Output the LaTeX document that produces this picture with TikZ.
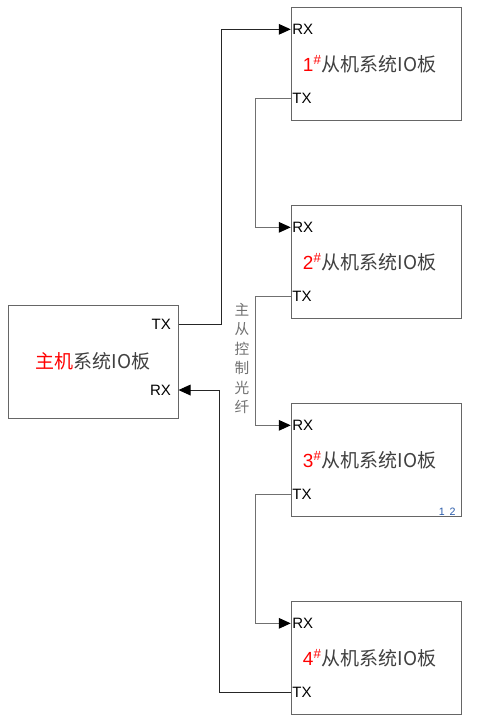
\documentclass[tikz,border=0pt]{standalone}
\usepackage{fontspec}
\setmainfont{Liberation Sans}
\newfontfamily\cjk{Noto Sans CJK SC}
\usetikzlibrary{arrows.meta,positioning}
\definecolor{boardred}{RGB}{255,0,0}
\definecolor{boardtext}{RGB}{64,64,64}
\definecolor{fibergray}{RGB}{112,112,112}
\definecolor{notecol}{RGB}{40,90,170}
\begin{document}
\begin{tikzpicture}[x=0.75pt,y=-0.75pt,
                    board/.style={draw=black!60,line width=0.75pt,
                    minimum width=127.5pt,minimum height=84.75pt,inner sep=0pt},
                    title/.style={font=\fontsize{14.25}{17}\selectfont,
                    text=boardtext,inner sep=0pt},
                    port/.style={font=\fontsize{11.25}{13}\selectfont,inner sep=1pt},
                    link/.style={draw=black!85,line width=0.75pt,
                    -{Triangle[length=9pt,width=8pt,color=black]}},
                    fiber/.style={link,draw=fibergray},
                    fiberlabel/.style={font=\cjk\fontsize{11}{14.6}\selectfont,
                    text=fibergray,align=center,inner sep=0pt}]
  \useasboundingbox (0,0) rectangle (482,727);
  % master board
  \node[board] (master) at (93,361.5) {};
  \node[title] (mastertitle) at (master.center)
    {\cjk\textcolor{boardred}{主机}系统IO板};
  \coordinate (mtx) at ([yshift=28.1pt]master.east);
  \coordinate (mrx) at ([yshift=-21.4pt]master.east);
  \node[port,anchor=east] (mtxlabel) at ([xshift=-4.5pt]mtx) {TX};
  \node[port,anchor=east] (mrxlabel) at ([xshift=-4.5pt]mrx) {RX};
  % slave boards
  \foreach \n/\y in {1/64,2/262,3/460,4/658}{
    \node[board] (s\n) at (376.25,\y) {};
    \node[title,xshift=-5pt] (title\n) at (s\n.center)
      {\textcolor{boardred}{\n\textsuperscript{\#}}\cjk 从机系统IO板};
    \coordinate (rx\n) at ([yshift=26pt]s\n.west);
    \coordinate (tx\n) at ([yshift=-26pt]s\n.west);
    \node[port,anchor=west] (rxlabel\n) at (rx\n) {RX};
    \node[port,anchor=west] (txlabel\n) at (tx\n) {TX};
  }
  \node[font=\fontsize{8}{9}\selectfont,text=notecol,anchor=south east,
    inner sep=0pt] (note) at ([xshift=-4.5pt,yshift=1pt]s3.south east)
    {1\hspace{3.5pt}2};
  % fibres
  \draw[link] (mtx) -- ++(42.5,0) |- (rx1);
  \foreach \a/\b in {1/2,2/3,3/4}
    \draw[fiber] (tx\a) -- ++(-35,0) |- (rx\b);
  \draw[link] (tx4) -- ++(-71,0) |- (mrx);
  \node[fiberlabel] (fibertext) at (242,358.5) {主\\从\\控\\制\\光\\纤};
\end{tikzpicture}
\end{document}
